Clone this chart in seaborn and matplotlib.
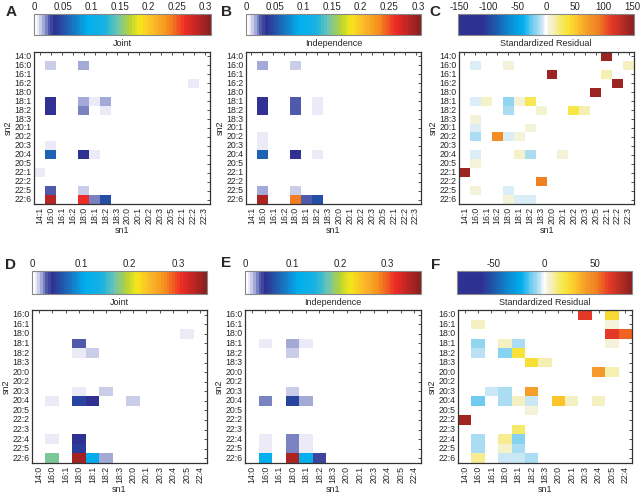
import matplotlib
matplotlib.use("Agg")
import numpy as np
import pandas as pd
import seaborn as sns
import matplotlib.pyplot as plt
from matplotlib.colors import LinearSegmentedColormap

# ---------------- data ----------------
rows_top = ["14:0", "16:0", "16:1", "16:2", "18:0", "18:1", "18:2", "18:3", "20:1",
            "20:2", "20:3", "20:4", "20:5", "22:1", "22:2", "22:5", "22:6"]
cols_top = ["14:1", "16:0", "16:1", "16:2", "18:0", "18:1", "18:2", "18:3", "20:0",
            "20:1", "20:2", "20:3", "20:5", "22:1", "22:2", "22:3"]
rows_bot = ["16:0", "16:1", "18:0", "18:1", "18:2", "18:3", "20:0", "20:2", "20:3",
            "20:4", "20:5", "22:2", "22:3", "22:4", "22:5", "22:6"]
cols_bot = ["14:0", "16:0", "16:1", "18:0", "18:1", "18:2", "18:3", "20:0", "20:1",
            "20:3", "20:4", "20:5", "22:4"]

# (sn1, sn2, value)
joint_A = [("16:0", "16:0", 0.011), ("18:0", "16:0", 0.016), ("22:2", "16:2", 0.007),
           ("16:0", "18:1", 0.034), ("18:0", "18:1", 0.016), ("18:1", "18:1", 0.006),
           ("18:2", "18:1", 0.018), ("16:0", "18:2", 0.036), ("18:0", "18:2", 0.021),
           ("18:2", "18:2", 0.006), ("16:0", "20:3", 0.007), ("16:0", "20:4", 0.058),
           ("18:0", "20:4", 0.036), ("18:1", "20:4", 0.007), ("14:1", "22:1", 0.007),
           ("16:0", "22:5", 0.024), ("18:0", "22:5", 0.011), ("16:0", "22:6", 0.29),
           ("18:0", "22:6", 0.265), ("18:1", "22:6", 0.021), ("18:2", "22:6", 0.05)]

indep_B = [("16:0", "16:0", 0.016), ("18:0", "16:0", 0.011),
           ("16:0", "18:1", 0.035), ("16:0", "18:2", 0.035),
           ("18:0", "18:1", 0.024), ("18:0", "18:2", 0.024),
           ("18:2", "18:1", 0.006), ("18:2", "18:2", 0.006),
           ("16:0", "20:2", 0.006), ("16:0", "20:3", 0.006),
           ("16:0", "20:4", 0.058), ("18:0", "20:4", 0.037), ("18:2", "20:4", 0.006),
           ("16:0", "22:5", 0.016), ("18:0", "22:5", 0.010),
           ("16:0", "22:6", 0.29), ("18:0", "22:6", 0.235), ("18:1", "22:6", 0.024),
           ("18:2", "22:6", 0.05)]

resid_C = [("22:1", "14:0", 145),
           ("16:0", "16:0", -4), ("18:0", "16:0", 4), ("22:3", "16:0", 12),
           ("20:0", "16:1", 145), ("22:1", "16:1", 14),
           ("22:2", "16:2", 145),
           ("20:5", "18:0", 145),
           ("16:0", "18:1", -4), ("16:1", "18:1", 9), ("18:0", "18:1", -16),
           ("18:1", "18:1", 4), ("18:2", "18:1", 30),
           ("18:0", "18:2", -12), ("18:3", "18:2", 7), ("20:2", "18:2", 33), ("20:3", "18:2", 14),
           ("16:0", "18:3", 5),
           ("16:0", "20:1", -5), ("18:2", "20:1", 5),
           ("16:0", "20:2", -11), ("16:2", "20:2", 82), ("18:0", "20:2", -5), ("18:1", "20:2", 5),
           ("16:0", "20:4", -5), ("18:1", "20:4", 9), ("18:2", "20:4", -12), ("20:1", "20:4", 4),
           ("16:0", "20:5", 4),
           ("14:1", "22:1", 145),
           ("18:3", "22:2", 91),
           ("16:0", "22:5", 5), ("18:0", "22:5", -5),
           ("18:0", "22:6", 4), ("18:1", "22:6", -4), ("18:2", "22:6", -4)]

joint_D = [("20:5", "18:0", 0.007), ("18:0", "18:1", 0.033),
           ("18:0", "18:2", 0.007), ("18:1", "18:2", 0.016),
           ("18:0", "20:3", 0.007), ("18:2", "20:3", 0.016),
           ("16:0", "20:4", 0.007), ("18:0", "20:4", 0.05), ("18:1", "20:4", 0.042),
           ("20:0", "20:4", 0.016),
           ("16:0", "22:4", 0.007), ("18:0", "22:4", 0.04), ("18:0", "22:5", 0.045),
           ("16:0", "22:6", 0.175), ("18:0", "22:6", 0.345), ("18:1", "22:6", 0.11),
           ("18:2", "22:6", 0.017)]

indep_E = [("16:0", "18:1", 0.007), ("18:0", "18:1", 0.02), ("18:1", "18:1", 0.007),
           ("18:0", "18:2", 0.013), ("18:0", "20:3", 0.013),
           ("16:0", "20:4", 0.026), ("18:0", "20:4", 0.055), ("18:1", "20:4", 0.02),
           ("16:0", "22:4", 0.007), ("16:0", "22:5", 0.007),
           ("18:0", "22:4", 0.026), ("18:0", "22:5", 0.026),
           ("18:1", "22:4", 0.007), ("18:1", "22:5", 0.007),
           ("16:0", "22:6", 0.115), ("18:0", "22:6", 0.35), ("18:1", "22:6", 0.115),
           ("18:2", "22:6", 0.035)]

resid_F = [("20:3", "16:0", 64), ("20:5", "16:0", 24),
           ("16:0", "16:1", 7), ("20:5", "16:1", 3),
           ("20:5", "18:0", 64), ("22:4", "18:0", 56),
           ("16:0", "18:1", -10), ("18:0", "18:1", 6), ("18:1", "18:1", -7), ("20:5", "18:1", 3),
           ("16:0", "18:2", -6), ("18:0", "18:2", -11), ("18:1", "18:2", 21),
           ("18:2", "18:3", 23), ("18:3", "18:3", 8),
           ("20:4", "20:0", 41), ("20:5", "20:0", 8),
           ("16:1", "20:3", -4), ("18:0", "20:3", -7), ("18:2", "20:3", 40),
           ("16:0", "20:4", -14), ("18:0", "20:4", -7), ("18:1", "20:4", 7),
           ("18:2", "20:4", -4), ("20:0", "20:4", 31), ("20:1", "20:4", 6), ("20:4", "20:4", 6),
           ("18:2", "20:5", 3),
           ("14:0", "22:2", 80),
           ("18:1", "22:3", 14),
           ("16:0", "22:4", -7), ("18:0", "22:4", 10), ("18:1", "22:4", -11),
           ("16:0", "22:5", -7), ("18:0", "22:5", 5), ("18:1", "22:5", -7),
           ("16:0", "22:6", 11), ("18:0", "22:6", -4), ("18:1", "22:6", -4), ("18:2", "22:6", -7)]

# ---------------- colormaps ----------------
joint_nodes = [0, 0.02, 0.05, 0.08, 0.11, 0.2, 0.3, 0.4, 0.47, 0.54, 0.6, 0.68, 0.76, 0.86, 1.0]
joint_cols = ['#ffffff', '#e4e6f4', '#9ba3d5', '#4a55a8', '#2e3192', '#1c6ab8', '#00aeef',
              '#19b2e2', '#6cc4b4', '#b6d334', '#f5e71a', '#fbb829', '#f5901e', '#ee2b26', '#8b2020']
resid_nodes = [0, 0.14, 0.22, 0.3, 0.37, 0.42, 0.46, 0.485, 0.5, 0.515, 0.54, 0.58, 0.62,
               0.68, 0.74, 0.8, 0.87, 1.0]
resid_cols = ['#2e3192', '#2e3192', '#1b5fae', '#0a8fd6', '#00aeef', '#6ccaf0', '#a8dcf2',
              '#dcedf7', '#ffffff', '#f4f3da', '#f5f0c0', '#f6ea70', '#f7e63a', '#fcc428',
              '#f59a2a', '#f08020', '#e83a28', '#8b2020']
cmap_joint = LinearSegmentedColormap.from_list("joint", list(zip(joint_nodes, joint_cols)), N=65)
cmap_resid = LinearSegmentedColormap.from_list("resid", list(zip(resid_nodes, resid_cols)), N=129)

sns.set_style("white")
plt.rcParams['font.family'] = ['Liberation Sans', 'DejaVu Sans']

W, H = 640, 495
fig = plt.figure(figsize=(6.4, 4.95), dpi=100)


def rect(x0, y0, x1, y1):
    return [x0 / W, 1 - y1 / H, (x1 - x0) / W, (y1 - y0) / H]


def make_df(rows, cols, cells):
    df = pd.DataFrame(np.nan, index=rows, columns=cols)
    for c, r, v in cells:
        df.loc[r, c] = v
    return df


def panel(hm, cb, rows, cols, cells, cmap, vmin, vmax, ticks, tlabels, title, letter, lxy):
    ax = fig.add_axes(rect(*hm))
    cax = fig.add_axes(rect(*cb))
    df = make_df(rows, cols, cells)
    sns.heatmap(df, ax=ax, cmap=cmap, vmin=vmin, vmax=vmax, cbar_ax=cax,
                cbar_kws={'orientation': 'horizontal', 'ticks': ticks},
                xticklabels=True, yticklabels=True)
    for s in ax.spines.values():
        s.set_visible(True)
        s.set_color('#333333')
        s.set_linewidth(0.9)
    ax.set_xticklabels(cols, rotation=90, fontsize=6.3)
    ax.set_yticklabels(rows, rotation=0, fontsize=6.3)
    ax.tick_params(axis='both', direction='in', length=2, width=0.6, pad=2,
                   top=True, right=True, color='#333333')
    ax.set_xlabel('sn1', fontsize=6.5, labelpad=1)
    ax.set_ylabel('sn2', fontsize=6.5, labelpad=1)
    # colorbar
    cax.xaxis.set_ticks_position('both')
    cax.xaxis.set_label_position('bottom')
    cax.tick_params(axis='x', labeltop=True, labelbottom=False, direction='in',
                    length=2, width=0.6, labelsize=7, pad=1.5, color='#444444')
    cax.set_xticks(ticks)
    cax.set_xticklabels(tlabels)
    cax.set_xlabel(title, fontsize=6.5, labelpad=3)
    cbar = ax.collections[0].colorbar
    cbar.outline.set_edgecolor('#888888')
    cbar.outline.set_linewidth(0.8)
    fig.text(lxy[0] / W, 1 - lxy[1] / H, letter, fontsize=11, fontweight='bold',
             ha='center', va='center')


t_top = [0, 0.05, 0.1, 0.15, 0.2, 0.25, 0.3]
l_top = ['0', '0.05', '0.1', '0.15', '0.2', '0.25', '0.3']
t_res = [-150, -100, -50, 0, 50, 100, 150]
l_res = ['-150', '-100', '-50', '0', '50', '100', '150']
t_bot = [0, 0.1, 0.2, 0.3]
l_bot = ['0', '0.1', '0.2', '0.3']
t_resF = [-50, 0, 50]
l_resF = ['-50', '0', '50']

panel((34, 52, 210, 204), (34, 14, 211, 35), rows_top, cols_top, joint_A, cmap_joint,
      0, 0.31, t_top, l_top, 'Joint', 'A', (11, 12))
panel((246, 52, 421, 204), (246, 14, 421, 35), rows_top, cols_top, indep_B, cmap_joint,
      0, 0.305, t_top, l_top, 'Independence', 'B', (227, 12))
panel((459, 52, 634, 204), (458, 14, 634, 35), rows_top, cols_top, resid_C, cmap_resid,
      -153, 153, t_res, l_res, 'Standardized Residual', 'C', (435, 12))
panel((32, 310, 207, 463), (32, 271, 207, 294), rows_bot, cols_bot, joint_D, cmap_joint,
      0, 0.358, t_bot, l_bot, 'Joint', 'D', (10, 265))
panel((245, 310, 421, 463), (245, 271, 421, 294), rows_bot, cols_bot, indep_E, cmap_joint,
      0, 0.37, t_bot, l_bot, 'Independence', 'E', (226, 263))
panel((458, 310, 632, 463), (457, 271, 632, 294), rows_bot, cols_bot, resid_F, cmap_resid,
      -86, 86, t_resF, l_resF, 'Standardized Residual', 'F', (436, 265))

fig.savefig('out.png', dpi=100)
